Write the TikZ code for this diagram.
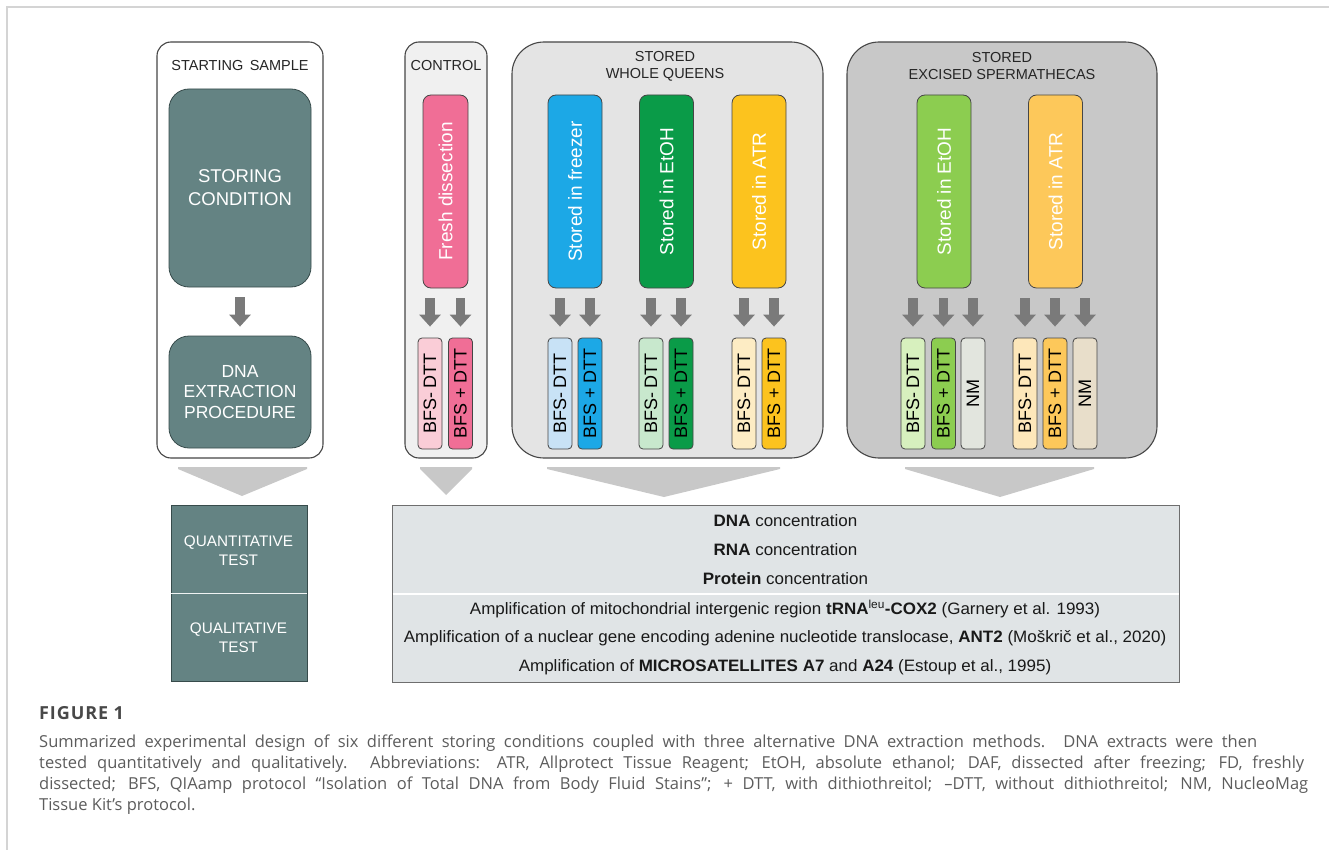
\documentclass[tikz,border=0pt]{standalone}
\usepackage{fontspec}
\usepackage{graphicx}
\setmainfont{Liberation Sans}
\newfontfamily\capfont{Open Sans}
\newfontfamily\capheadfont[LetterSpace=5]{Open Sans}
\usetikzlibrary{arrows.meta}
\definecolor{tealbox}{RGB}{100,131,131}
\definecolor{tealedge}{RGB}{55,75,75}
\definecolor{edge}{RGB}{70,70,70}
\definecolor{ctrlbg}{RGB}{240,240,240}
\definecolor{wqbg}{RGB}{228,228,228}
\definecolor{spbg}{RGB}{200,200,200}
\definecolor{chev}{RGB}{200,200,200}
\definecolor{arr}{RGB}{122,122,122}
\definecolor{frame}{RGB}{212,212,212}
\definecolor{pinkD}{RGB}{240,110,150}
\definecolor{pinkL}{RGB}{250,205,215}
\definecolor{blueD}{RGB}{28,168,230}
\definecolor{blueL}{RGB}{200,226,246}
\definecolor{greenD}{RGB}{10,155,72}
\definecolor{greenL}{RGB}{200,232,205}
\definecolor{yelD}{RGB}{252,195,30}
\definecolor{yelL}{RGB}{253,236,196}
\definecolor{lgreenD}{RGB}{140,205,80}
\definecolor{lgreenL}{RGB}{215,240,190}
\definecolor{nmA}{RGB}{226,229,222}
\definecolor{orD}{RGB}{253,200,90}
\definecolor{orL}{RGB}{253,231,186}
\definecolor{nmB}{RGB}{232,222,202}
\definecolor{resbg}{RGB}{224,228,230}
\definecolor{resedge}{RGB}{110,110,110}
\definecolor{captxt}{RGB}{92,92,92}
\definecolor{caphead}{RGB}{72,72,72}
\newcommand{\restxt}[1]{\scalebox{1.03}[1]{#1}}
\tikzset{
  container/.style={draw=edge, line width=1.1pt, inner sep=0pt},
  tealnode/.style={draw=tealedge, line width=0.8pt, fill=tealbox, rounded corners=20pt, inner sep=0pt},
  tallbox/.style={draw=edge, line width=0.8pt, rounded corners=8pt, minimum width=54pt, minimum height=193pt, inner sep=0pt},
  smallbox/.style={draw=edge, line width=0.8pt, rounded corners=4pt, minimum width=24pt, minimum height=111pt, inner sep=0pt},
  talltext/.style={rotate=90, text=white, font=\fontsize{19}{22}\selectfont},
  smalltext/.style={rotate=90, text=black, font=\fontsize{18}{21}\selectfont},
  title/.style={align=center, font=\fontsize{14.5}{17}\selectfont, text=black!85},
  blk/.style={draw=arr, line width=9.5pt, -{Triangle[width=21pt,length=12pt]}, shorten <=10pt, shorten >=11pt},
  chevron/.style={fill=chev, draw=none},
  restext/.style={font=\fontsize{16.5}{20}\selectfont, text=black!90},
  testtext/.style={align=center, text=white, font=\fontsize{15.3}{19}\selectfont},
  captext/.style={anchor=west, inner sep=0pt, text=captxt, font=\capfont\fontsize{16.5}{20}\selectfont}
}
\begin{document}
\begin{tikzpicture}[x=1pt,y=-1pt]
\useasboundingbox (0,0) rectangle (1329,850);
% outer frame
\draw[frame, line width=1.5pt] (7,850) -- (7,7) -- (1329,7);

% ---------- containers ----------
\node[container, fill=white, rounded corners=14pt, minimum width=166pt, minimum height=416pt] (ss) at (240,250) {};
\node[container, fill=ctrlbg, rounded corners=14pt, minimum width=82pt, minimum height=416pt] (ctrl) at (446,250) {};
\node[container, fill=wqbg, rounded corners=32pt, minimum width=311pt, minimum height=416pt] (wq) at (667.5,250) {};
\node[container, fill=spbg, rounded corners=32pt, minimum width=310pt, minimum height=416pt] (sp) at (1002,250) {};

\node[title] (sst) at (240,66) {STARTING\, SAMPLE};
\node[title] (ctrlt) at (446,66) {CONTROL};
\node[title] (wqt) at (665,66.5) {STORED\\WHOLE QUEENS};
\node[title] (spt) at (1002,66.5) {STORED\\EXCISED SPERMATHECAS};

% ---------- starting sample ----------
\node[tealnode, minimum width=142pt, minimum height=198pt, align=center, text=white, font=\fontsize{18.5}{23}\selectfont] (stor) at (240,188) {STORING\\CONDITION};
\node[tealnode, minimum width=142pt, minimum height=112pt, align=center, text=white, font=\fontsize{17.5}{20.5}\selectfont] (dna) at (240,392) {DNA\\EXTRACTION\\PROCEDURE};
\draw[blk, shorten <=10pt, shorten >=9pt] (stor.south) -- (dna.north);

% ---------- control ----------
\node[tallbox, fill=pinkD, minimum width=45pt] (fd) at (445.5,191.5) {};
\node[talltext] at (fd) {Fresh dissection};
\node[smallbox, fill=pinkL] (fd1) at (430,393.5) {};
\node[smallbox, fill=pinkD] (fd2) at (460.5,393.5) {};
\node[smalltext] at (fd1) {BFS- DTT};
\node[smalltext] at (fd2) {BFS + DTT};
\draw[blk] (fd.south -| fd1.north) -- (fd1.north);
\draw[blk] (fd.south -| fd2.north) -- (fd2.north);

% ---------- whole queens ----------
\node[tallbox, fill=blueD] (fz) at (575,191.5) {};
\node[talltext] at (fz) {Stored in freezer};
\node[tallbox, fill=greenD] (et) at (666.5,191.5) {};
\node[talltext] at (et) {Stored in EtOH};
\node[tallbox, fill=yelD] (at) at (759,191.5) {};
\node[talltext] at (at) {Stored in ATR};

\node[smallbox, fill=blueL] (fz1) at (560,393.5) {};
\node[smallbox, fill=blueD] (fz2) at (590,393.5) {};
\node[smallbox, fill=greenL] (et1) at (651,393.5) {};
\node[smallbox, fill=greenD] (et2) at (681,393.5) {};
\node[smallbox, fill=yelL] (at1) at (744,393.5) {};
\node[smallbox, fill=yelD] (at2) at (774,393.5) {};
\foreach \n in {fz1,et1,at1} \node[smalltext] at (\n) {BFS- DTT};
\foreach \n in {fz2,et2,at2} \node[smalltext] at (\n) {BFS + DTT};
\foreach \p/\c in {fz/fz1,fz/fz2,et/et1,et/et2,at/at1,at/at2}
  \draw[blk] (\p.south -| \c.north) -- (\c.north);

% ---------- spermathecas ----------
\node[tallbox, fill=lgreenD] (set) at (944,191.5) {};
\node[talltext] at (set) {Stored in EtOH};
\node[tallbox, fill=orD] (sat) at (1055.5,191.5) {};
\node[talltext] at (sat) {Stored in ATR};

\node[smallbox, fill=lgreenL] (set1) at (913,393.5) {};
\node[smallbox, fill=lgreenD] (set2) at (943.5,393.5) {};
\node[smallbox, fill=nmA] (set3) at (973,393.5) {};
\node[smallbox, fill=orL] (sat1) at (1025,393.5) {};
\node[smallbox, fill=orD] (sat2) at (1055,393.5) {};
\node[smallbox, fill=nmB] (sat3) at (1085,393.5) {};
\foreach \n in {set1,sat1} \node[smalltext] at (\n) {BFS- DTT};
\foreach \n in {set2,sat2} \node[smalltext] at (\n) {BFS + DTT};
\foreach \n in {set3,sat3} \node[smalltext] at (\n) {NM};
\foreach \p/\c in {set/set1,set/set2,set/set3,sat/sat1,sat/sat2,sat/sat3}
  \draw[blk] (\p.south -| \c.north) -- (\c.north);

% ---------- chevrons ----------
\fill[chevron] (178,467) -- (307,467) -- (307,469) -- (242,496) -- (178,469) -- cycle;
\fill[chevron] (420,467) -- (472,467) -- (472,469) -- (446,495) -- (420,469) -- cycle;
\fill[chevron] (547,467) -- (780,467) -- (780,469) -- (664,497) -- (547,469) -- cycle;
\fill[chevron] (905,467) -- (1094,467) -- (1094,469) -- (1000,497) -- (905,469) -- cycle;

% ---------- tests ----------
\node[fill=tealbox, draw=tealedge, line width=0.6pt, minimum width=136pt, minimum height=88pt, inner sep=0pt] (quant) at (239,549) {};
\node[fill=tealbox, draw=tealedge, line width=0.6pt, minimum width=136pt, minimum height=88pt, inner sep=0pt] (qual) at (239,637) {};
\draw[white!90!tealbox, line width=1.5pt] (quant.south west) -- (quant.south east);
\node[testtext] at (238.5,550.5) {QUANTITATIVE\\TEST};
\node[testtext] at (238.5,637.5) {QUALITATIVE\\TEST};

\node[fill=resbg, draw=resedge, line width=1pt, minimum width=787pt, minimum height=177pt, inner sep=0pt] (res) at (785.5,593.5) {};
\draw[white, line width=1.5pt] (392.5,594) -- (1178.5,594);
\node[restext] (r1) at (785.5,521) {\restxt{\textbf{DNA} concentration}};
\node[restext] (r2) at (785.5,550) {\restxt{\textbf{RNA} concentration}};
\node[restext] (r3) at (785.5,579) {\restxt{\textbf{Protein} concentration}};
\node[restext] (r4) at (785,609) {\restxt{Amplification of mitochondrial intergenic region \textbf{tRNA}\textsuperscript{leu}\textbf{-COX2} (Garnery et al. 1993)}};
\node[restext] (r5) at (785,638) {\restxt{Amplification of a nuclear gene encoding adenine nucleotide translocase, \textbf{ANT2} (Moškrič et al., 2020)}};
\node[restext] (r6) at (785,667) {\restxt{Amplification of \textbf{MICROSATELLITES A7} and \textbf{A24} (Estoup et al., 1995)}};

% ---------- caption ----------
\node[captext, text=caphead, font=\capheadfont\bfseries\fontsize{18}{20}\selectfont] (fig) at (39,713) {FIGURE 1};
\node[captext] (c1) at (39,743) {\makebox[1218pt][s]{Summarized experimental design of six different storing conditions coupled with three alternative DNA extraction methods. DNA extracts were then}};
\node[captext] (c2) at (39,764) {\makebox[1265pt][s]{tested quantitatively and qualitatively. Abbreviations: ATR, Allprotect Tissue Reagent; EtOH, absolute ethanol; DAF, dissected after freezing; FD, freshly}};
\node[captext] (c3) at (39,785) {\makebox[1269pt][s]{dissected; BFS, QIAamp protocol “Isolation of Total DNA from Body Fluid Stains”; + DTT, with dithiothreitol; –DTT, without dithiothreitol; NM, NucleoMag}};
\node[captext] (c4) at (39,806) {Tissue Kit’s protocol.};
\end{tikzpicture}
\end{document}
